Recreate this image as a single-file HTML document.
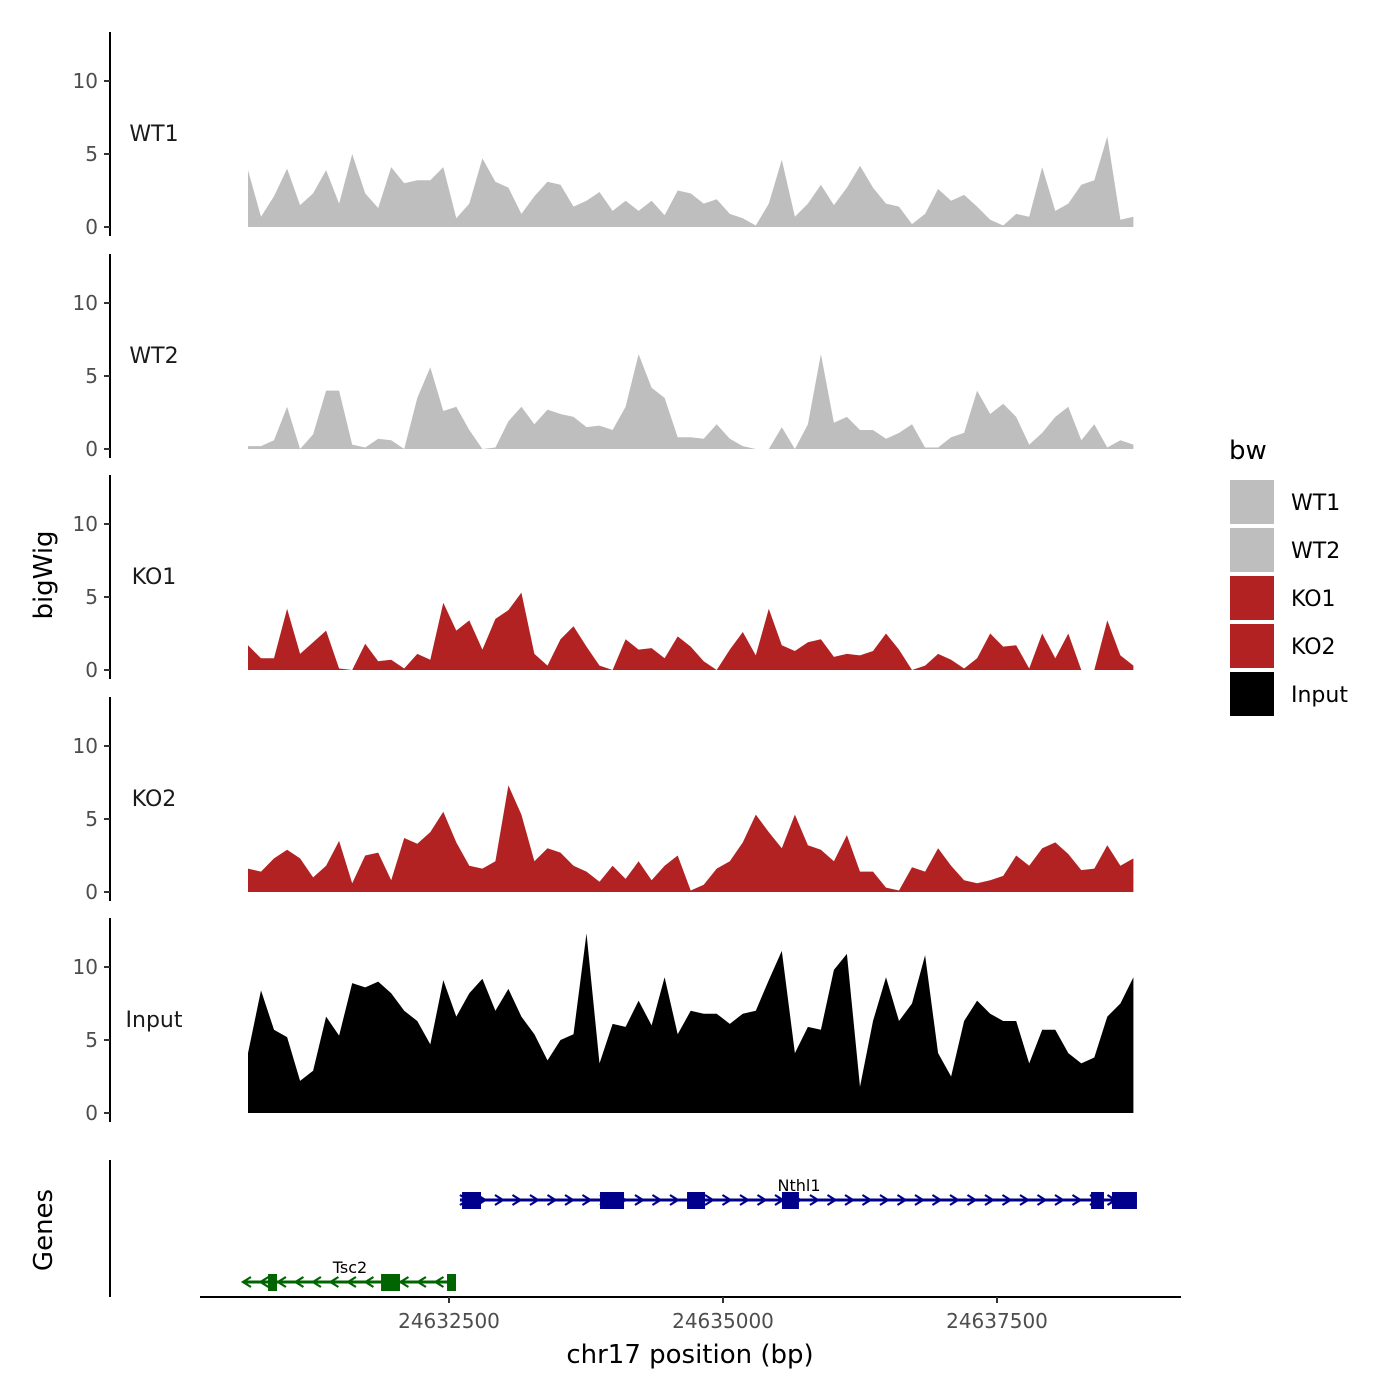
<!DOCTYPE html>
<html><head><meta charset="utf-8"><style>
html,body{margin:0;padding:0;background:#fff;}
svg{display:block;font-family:"DejaVu Sans","Liberation Sans",sans-serif;}
</style></head><body>
<svg id="c" width="1400" height="1400" xmlns="http://www.w3.org/2000/svg"></svg>
<script>
const tracks = ["WT1","WT2","KO1","KO2","Input"];
const trackColors = ["#bebebe","#bebebe","#b22222","#b22222","#000000"];
const posStart = 24630666;
const posStep = 118.8;
const wt1 = [3.9,0.7,2.1,4.0,1.5,2.3,3.9,1.6,5.0,2.3,1.3,4.1,3.0,3.2,3.2,4.1,0.6,1.6,4.7,3.1,2.7,0.9,2.1,3.1,2.9,1.4,1.8,2.4,1.1,1.8,1.1,1.8,0.8,2.5,2.3,1.6,1.9,0.9,0.6,0.1,1.6,4.6,0.7,1.6,2.9,1.5,2.7,4.2,2.7,1.6,1.4,0.2,0.9,2.6,1.8,2.2,1.4,0.5,0.1,0.9,0.7,4.1,1.1,1.6,2.9,3.2,6.2,0.5,0.7];
const wt2 = [0.2,0.2,0.6,2.9,0,1.0,4.0,4.0,0.3,0.1,0.7,0.6,0,3.5,5.6,2.6,2.9,1.3,0,0.1,1.9,2.9,1.7,2.7,2.4,2.2,1.5,1.6,1.3,2.9,6.5,4.2,3.5,0.8,0.8,0.7,1.7,0.7,0.2,0,0,1.5,0,1.7,6.5,1.8,2.2,1.3,1.3,0.7,1.1,1.7,0.1,0.1,0.8,1.1,4.0,2.4,3.1,2.2,0.3,1.1,2.2,2.9,0.6,1.7,0.1,0.6,0.3];
const ko1 = [1.7,0.8,0.8,4.2,1.1,1.9,2.7,0.1,0,1.8,0.6,0.7,0.1,1.1,0.7,4.6,2.7,3.4,1.4,3.5,4.1,5.3,1.1,0.3,2.1,3.0,1.6,0.3,0,2.1,1.4,1.5,0.8,2.3,1.6,0.6,0,1.4,2.6,1.0,4.2,1.7,1.3,1.9,2.1,0.9,1.1,1.0,1.3,2.5,1.4,0,0.3,1.1,0.7,0.1,0.8,2.5,1.6,1.7,0.1,2.5,0.8,2.5,0,0,3.4,1.0,0.3];
const ko2 = [1.6,1.4,2.3,2.9,2.3,1.0,1.8,3.5,0.6,2.5,2.7,0.8,3.7,3.3,4.1,5.5,3.4,1.8,1.6,2.1,7.3,5.3,2.1,3.0,2.7,1.8,1.4,0.7,1.8,0.9,2.1,0.8,1.8,2.5,0.1,0.5,1.6,2.1,3.4,5.3,4.1,3.0,5.3,3.2,2.9,2.1,3.9,1.4,1.4,0.3,0.1,1.7,1.4,3.0,1.8,0.8,0.6,0.8,1.1,2.5,1.8,3.0,3.4,2.6,1.5,1.6,3.2,1.8,2.3];
const inputVals = [4.1,8.4,5.7,5.2,2.2,2.9,6.6,5.3,8.9,8.6,9.0,8.2,7.0,6.3,4.7,9.1,6.6,8.2,9.2,7.0,8.5,6.6,5.4,3.6,5.0,5.4,12.3,3.4,6.1,5.9,7.7,6.0,9.3,5.4,7.0,6.8,6.8,6.1,6.8,7.0,9.1,11.1,4.1,5.9,5.7,9.8,10.9,1.8,6.3,9.3,6.3,7.5,10.8,4.1,2.5,6.3,7.7,6.8,6.3,6.3,3.4,5.7,5.7,4.1,3.4,3.8,6.6,7.5,9.3];
const series = [wt1,wt2,ko1,ko2,inputVals];
const yTicks = [0,5,10];
const xTicks = [24632500,24635000,24637500];
const xTickLabels = ["24632500","24635000","24637500"];
const nthl1Range = [24632600,24638777];
const nthl1Exons = [[24632619,24632792],[24633878,24634097],[24634672,24634836],[24635538,24635693],[24638358,24638476],[24638549,24638777]];
const tsc2Range = [24630620,24632564];
const tsc2Exons = [[24630849,24630931],[24631880,24632053],[24632482,24632564]];

const NS="http://www.w3.org/2000/svg";
const svg=document.getElementById('c');
function mk(tag,attrs,parent){const e=document.createElementNS(NS,tag);for(const k in attrs)e.setAttribute(k,attrs[k]);(parent||svg).appendChild(e);return e;}
const xs = bp => 449 + (bp-24632500)*0.1096;
const zeroY = [227,449,670,892,1113];
const ys = (i,v) => zeroY[i] - v*14.6;

tracks.forEach((t,i)=>{
  const g=mk('g',{});
  
  
  const vals=series[i];
  let d='M'+xs(posStart)+','+zeroY[i];
  vals.forEach((v,j)=>{d+=' L'+xs(posStart+j*posStep).toFixed(1)+','+ys(i,v).toFixed(1);});
  d+=' L'+xs(posStart+(vals.length-1)*posStep).toFixed(1)+','+zeroY[i]+' Z';
  const p=mk('path',{d:d,fill:trackColors[i]},g);
  
  
  const ax=mk('line',{x1:110,x2:110,y1:zeroY[i]-195,y2:zeroY[i]+9,stroke:'#000','stroke-width':2},g);
  
  
  yTicks.forEach(v=>{
    const y=ys(i,v);
    mk('line',{x1:104,x2:110,y1:y,y2:y,stroke:'#333','stroke-width':2},g);
    const tx=mk('text',{x:98,y:y+7,'text-anchor':'end','font-size':20,fill:'#4d4d4d'},g);
    tx.textContent=v;
    
    
  });
  const lb=mk('text',{x:154,y:zeroY[i]-86,'text-anchor':'middle','font-size':22,fill:'#1a1a1a'},g);
  lb.textContent=t;
  
  
});

const gg=mk('g',{});


const gax=mk('line',{x1:110,x2:110,y1:1160,y2:1297,stroke:'#000','stroke-width':2},gg);


function drawGene(name,range,exons,y,color,dir,labelX){
  const g=mk('g',{},gg);
  
  
  mk('line',{x1:xs(range[0]),x2:xs(range[1]),y1:y,y2:y,stroke:color,'stroke-width':3},g);
  for(let x=xs(range[0])+4;x<xs(range[1]);x+=17.5){
    const dx=dir*4;
    mk('polyline',{points:(x-dx)+','+(y-5)+' '+(x+dx)+','+y+' '+(x-dx)+','+(y+5),fill:'none',stroke:color,'stroke-width':2.2},g);
  }
  exons.forEach(e=>{
    const r=mk('rect',{x:xs(e[0]),y:y-8,width:xs(e[1])-xs(e[0]),height:17,fill:color},g);
    
    
  });
  const t=mk('text',{x:labelX,y:y-9,'text-anchor':'middle','font-size':16,fill:'#000'},g);
  t.textContent=name;
}
drawGene('Nthl1',nthl1Range,nthl1Exons,1200,'#00008b',1,799);
drawGene('Tsc2',tsc2Range,tsc2Exons,1282,'#006400',-1,350);

const xa=mk('g',{});


mk('line',{x1:200,x2:1181,y1:1297,y2:1297,stroke:'#000','stroke-width':2},xa);
xTicks.forEach((v,k)=>{
  const x=xs(v);
  mk('line',{x1:x,x2:x,y1:1297,y2:1303,stroke:'#333','stroke-width':2},xa);
  const t=mk('text',{x:x,y:1328,'text-anchor':'middle','font-size':20,fill:'#4d4d4d'},xa);
  t.textContent=xTickLabels[k];
  
  
});
const xt=mk('text',{x:690,y:1363,'text-anchor':'middle','font-size':26,fill:'#000'});
xt.textContent='chr17 position (bp)';


const yt=mk('text',{x:0,y:0,'text-anchor':'middle','font-size':26,fill:'#000',transform:'translate(52,575) rotate(-90)'});
yt.textContent='bigWig';


const gt=mk('text',{x:0,y:0,'text-anchor':'middle','font-size':26,fill:'#000',transform:'translate(52,1230) rotate(-90)'});
gt.textContent='Genes';



const lg=mk('g',{});


const lt=mk('text',{x:1229,y:459,'font-size':26,fill:'#000'},lg);
lt.textContent='bw';
tracks.forEach((t,i)=>{
  const y=480+i*48;
  const r=mk('rect',{x:1230,y:y,width:44,height:44,fill:trackColors[i]},lg);
  
  
  const tx=mk('text',{x:1291,y:y+30,'font-size':22,fill:'#000'},lg);
  tx.textContent=t;
  
  
});
</script>
</body></html>
